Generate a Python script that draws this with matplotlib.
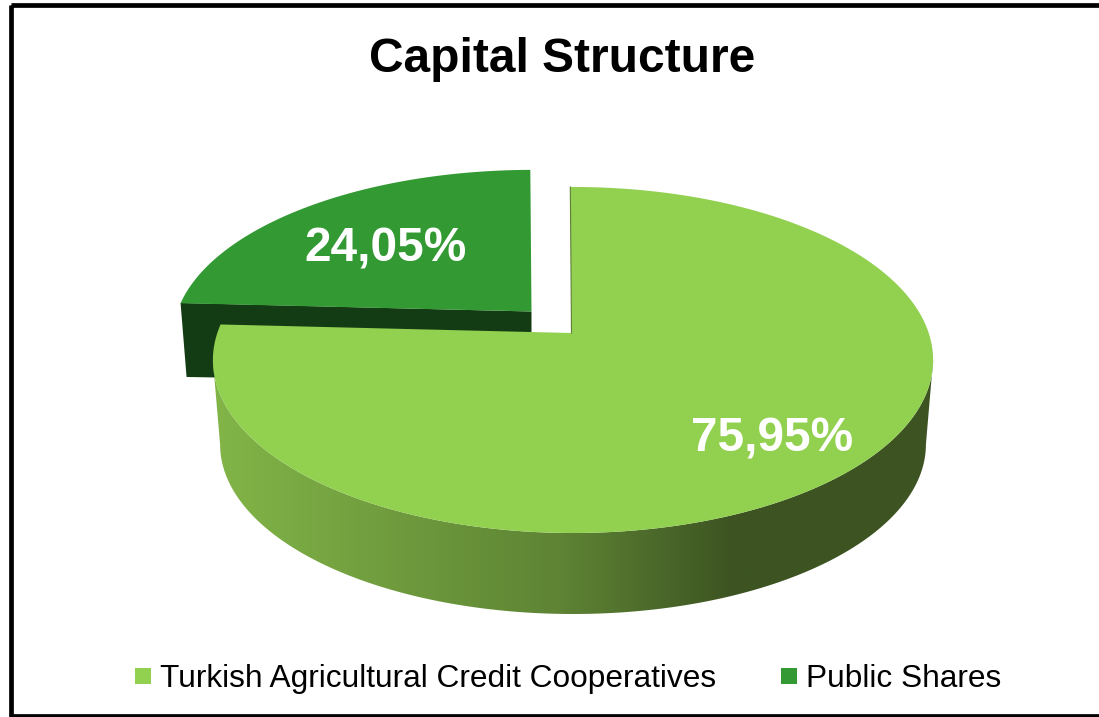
import matplotlib
matplotlib.use('Agg')
import matplotlib.pyplot as plt
from matplotlib.patches import Polygon, Rectangle
from matplotlib.colors import LinearSegmentedColormap
import numpy as np

plt.rcParams['font.family'] = ['Liberation Sans', 'DejaVu Sans']

title = 'Capital Structure'
categories = ['Turkish Agricultural Credit Cooperatives', 'Public Shares']
shares = [75.95, 24.05]
colors = ['#92D050', '#339933']

# geometry of the tilted disc, in pixels
CX, CY = 573.0, 333.0
RX, RY = 355.7, 168.8
TILT = -0.156
DEPTH = 85.0
BOTTOM_SCALE = 0.98
START = -0.5


def disc_xy(t_deg, scale=1.0, dx=0.0, dy=0.0, sy=1.0):
    """Perspective point on the rim, angle clockwise from 12 o'clock"""
    t = np.radians(t_deg)
    u, v = np.sin(t), -np.cos(t)
    w = 1 + TILT * v
    return CX + dx + scale * RX * u / w, CY + dy + scale * sy * RY * v / w


f, ax = plt.subplots(figsize=(10.99, 7.17), dpi=100)
f.subplots_adjust(left=0, right=1, top=1, bottom=0)
ax.set_xlim(0, 1099)
ax.set_ylim(717, 0)
ax.axis('off')

# Outer frame, the right side falls outside the picture
ax.add_patch(Rectangle((11, 4.5), 1200, 711, facecolor='none', edgecolor='black', linewidth=3.4))

angles = np.array(shares) / sum(shares) * 360
split = START + angles[0]

# Pulled out slice: side wall first, then the top
off_x, off_y = -40.0, -21.5
lx, ly = disc_xy(split, dx=off_x, dy=off_y)
wall = Polygon([(lx, ly), (CX - 1.5 + off_x, CY + off_y), (CX - 1.5 + off_x, CY + 50), (lx + 6, ly + 74)],
               facecolor='#143C14', edgecolor='none', zorder=2)
ax.add_patch(wall)
t = np.linspace(split, 360 + START, 120)
x, y = disc_xy(t, dx=off_x, dy=off_y, sy=0.97)
top2 = np.column_stack([np.append(x, CX - 1.5 + off_x), np.append(y, CY + off_y)])
ax.add_patch(Polygon(top2, facecolor=colors[1], edgecolor='none', zorder=3))

# Side wall of the big slice, filled with a horizontal gradient
t = np.linspace(99, 261, 240)
xt, yt = disc_xy(t)
xb, yb = disc_xy(t, scale=BOTTOM_SCALE, dy=DEPTH)
outline = np.column_stack([np.append(xt, xb[::-1]), np.append(yt, yb[::-1])])
clip = Polygon(outline, transform=ax.transData, facecolor='none', edgecolor='none')
ax.add_patch(clip)
shade = LinearSegmentedColormap.from_list('shade', [(0, '#82B548'), (0.48, '#5E8434'), (0.72, '#3D5422'), (1, '#3D5422')])
im = ax.imshow(np.linspace(0, 1, 256)[None, :], cmap=shade, extent=(213, 934, 620, 340), aspect='auto', zorder=4)
im.set_clip_path(clip)
ax.set_xlim(0, 1099)
ax.set_ylim(717, 0)

# Top of the big slice
t = np.linspace(START, split, 360)
x, y = disc_xy(t)
top1 = np.column_stack([np.append(x, CX - 1.5), np.append(y, CY)])
ax.add_patch(Polygon(top1, facecolor=colors[0], edgecolor='none', zorder=5))
ax.plot([x[0], CX - 1.5], [y[0], CY], color='#5E7F3A', linewidth=0.8, zorder=5)

# Value labels
labels = [f'{v:.2f}'.replace('.', ',') + '%' for v in shares]
ax.text(772, 439, labels[0], color='white', fontsize=34.4, fontweight='bold', ha='center', va='center', zorder=6)
ax.text(386, 249, labels[1], color='white', fontsize=34.4, fontweight='bold', ha='center', va='center', zorder=6)

ax.text(562.5, 59, title, color='black', fontsize=34.5, fontweight='bold', ha='center', va='center', zorder=6)

# Legend
for name, col, box_x in zip(categories, colors, [135, 781]):
    ax.add_patch(Rectangle((box_x, 668), 16, 16, facecolor=col, edgecolor='none', zorder=6))
    ax.text(box_x + 24.5, 687, name, color='black', fontsize=22.8, ha='left', va='baseline', zorder=6)

f.savefig('out.png', dpi=100)
